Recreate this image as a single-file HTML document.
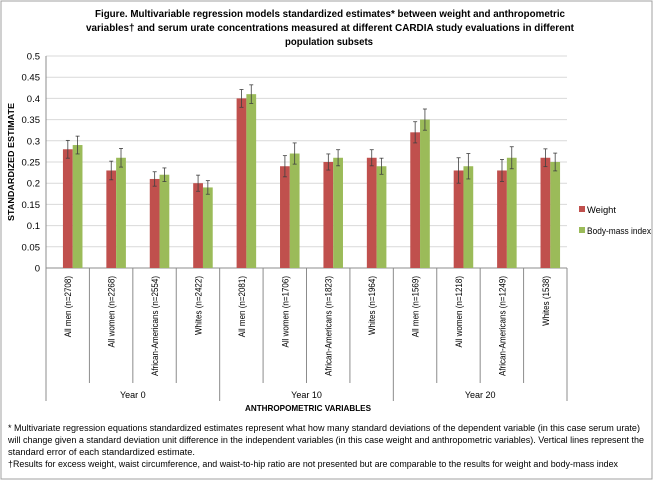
<!DOCTYPE html>
<html><head><meta charset="utf-8"><style>
body{margin:0;background:#fff}
svg{display:block;font-family:"Liberation Sans",sans-serif}
</style></head><body>
<svg id="c" width="657" height="482" viewBox="0 0 657 482">
<rect x="1" y="1" width="651" height="478" fill="#fff" stroke="#a0a0a0"/>
<g font-weight="bold" font-size="10.5" text-anchor="middle" fill="#000">
<text x="330" y="17" textLength="470" lengthAdjust="spacingAndGlyphs">Figure. Multivariable regression models standardized estimates* between weight and anthropometric</text>
<text x="330" y="31" textLength="488" lengthAdjust="spacingAndGlyphs">variables† and serum urate concentrations measured at different CARDIA study evaluations in different</text>
<text x="329" y="45" textLength="88" lengthAdjust="spacingAndGlyphs">population subsets</text>
</g>
<g id="grid"></g><g id="bars"></g><g id="xax"></g>
<text transform="translate(14,162) rotate(-90)" text-anchor="middle" font-size="8.5" font-weight="bold" textLength="118" lengthAdjust="spacingAndGlyphs">STANDARDIZED ESTIMATE</text>
<text x="308" y="411" text-anchor="middle" font-size="8.5" font-weight="bold" textLength="126" lengthAdjust="spacingAndGlyphs">ANTHROPOMETRIC VARIABLES</text>
<g font-size="9.5">
<g><rect x="579" y="206" width="6" height="6" fill="#c0504d"/><text x="587" y="213" textLength="29" lengthAdjust="spacingAndGlyphs">Weight</text></g>
<g><rect x="579" y="227" width="6" height="6" fill="#9bbb59"/><text x="587" y="234" textLength="64" lengthAdjust="spacingAndGlyphs">Body-mass index</text></g>
</g>
<g font-size="9" fill="#000">
<text x="8" y="431" textLength="632" lengthAdjust="spacingAndGlyphs">* Multivariate regression equations standardized estimates represent what how many standard deviations of the dependent variable (in this case serum urate)</text>
<text x="8" y="443" textLength="636" lengthAdjust="spacingAndGlyphs">will change given a standard deviation unit difference in the independent variables (in this case weight and anthropometric variables). Vertical lines represent the</text>
<text x="8" y="455" textLength="187" lengthAdjust="spacingAndGlyphs">standard error of each standardized estimate.</text>
<text x="8" y="467" textLength="610" lengthAdjust="spacingAndGlyphs">†Results for excess weight, waist circumference, and waist-to-hip ratio are not presented but are comparable to the results for weight and body-mass index</text>
</g>
</svg>
<script>
const categories=["All men (n=2708)","All women (n=2268)","African-Americans (n=2554)","Whites (n=2422)","All men (n=2081)","All women (n=1706)","African-Americans (n=1823)","Whites (n=1964)","All men (n=1569)","All women (n=1218)","African-Americans (n=1249)","Whites (1538)"];
const groups=["Year 0","Year 10","Year 20"];
const weight=[0.28,0.23,0.21,0.20,0.40,0.24,0.25,0.26,0.32,0.23,0.23,0.26];
const bmi=[0.29,0.26,0.22,0.19,0.41,0.27,0.26,0.24,0.35,0.24,0.26,0.25];
const weightErr=[0.021,0.022,0.017,0.019,0.021,0.025,0.019,0.019,0.025,0.030,0.026,0.021];
const bmiErr=[0.021,0.022,0.016,0.016,0.022,0.025,0.019,0.019,0.025,0.030,0.026,0.021];
const yTicks=[0,0.05,0.1,0.15,0.2,0.25,0.3,0.35,0.4,0.45,0.5];
const NS="http://www.w3.org/2000/svg";
const X0=46,X1=567,Y0=268,Y1=56,YMAX=0.5;
const cw=(X1-X0)/categories.length;
const y=v=>Y0-(v/YMAX)*(Y0-Y1);
const x=i=>X0+i*cw;
function mk(p,t,a){const e=document.createElementNS(NS,t);for(const k in a)e.setAttribute(k,a[k]);p.appendChild(e);return e;}
const grid=document.getElementById('grid'),bars=document.getElementById('bars'),xax=document.getElementById('xax');
yTicks.forEach(t=>{
 const l=mk(grid,'line',{x1:X0,x2:X1,y1:y(t),y2:y(t),stroke:t===0?'#8c8c8c':'#d9d9d9'});
 
 
 const tx=mk(grid,'text',{x:X0-6,y:y(t)+3.5,'text-anchor':'end','font-size':'9.5'});
 tx.textContent=String(t);
 
 
});
mk(grid,'line',{x1:X0,x2:X0,y1:Y1,y2:Y0,stroke:'#8c8c8c'});
const bw=cw*0.225;
categories.forEach((c,i)=>{
 const cx=x(i)+cw/2+5;
 [[weight,weightErr,'#c0504d',-1,'bar-weight'],[bmi,bmiErr,'#9bbb59',0,'bar-bmi']].forEach(([s,e,col,o,nm])=>{
  const bx=cx+o*bw;
  const r=mk(bars,'rect',{x:bx,y:y(s[i]),width:bw,height:Y0-y(s[i]),fill:col});
  
  
  const mx=bx+bw/2;
  const g=mk(bars,'g',{stroke:'#404040','stroke-width':'0.8'});
  
  
  mk(g,'line',{x1:mx,x2:mx,y1:y(s[i]+e[i]),y2:y(s[i]-e[i])});
  mk(g,'line',{x1:mx-2,x2:mx+2,y1:y(s[i]+e[i]),y2:y(s[i]+e[i])});
  mk(g,'line',{x1:mx-2,x2:mx+2,y1:y(s[i]-e[i]),y2:y(s[i]-e[i])});
 });
 const lt=mk(xax,'text',{transform:`translate(${x(i)+cw/2+3.5},276) rotate(-90)`,'text-anchor':'end','font-size':'9'});
 lt.textContent=c;
 
 
 const L=lt.getComputedTextLength();
 lt.setAttribute('textLength',(L*0.89).toFixed(1));
 lt.setAttribute('lengthAdjust','spacingAndGlyphs');
});
for(let i=0;i<=categories.length;i++){
 const big=i%4===0;
 mk(xax,'line',{x1:x(i),x2:x(i),y1:Y0,y2:big?401:383,stroke:'#8c8c8c'});
}
groups.forEach((g,j)=>{
 const t=mk(xax,'text',{x:x(j*4+2),y:398,'text-anchor':'middle','font-size':'9'});
 t.textContent=g;
 
 
});
</script>
</body></html>
